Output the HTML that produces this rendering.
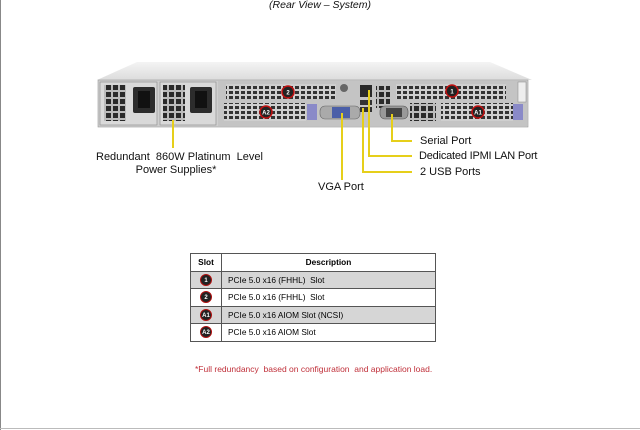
<!DOCTYPE html>
<html><head><meta charset="utf-8"><style>
html,body{margin:0;padding:0;background:#fff;}
body{width:640px;height:430px;position:relative;overflow:hidden;font-family:"Liberation Sans",sans-serif;}
.t{position:absolute;font-size:11px;color:#111;white-space:nowrap;}
table{position:absolute;left:190px;top:253px;width:246px;border-collapse:collapse;font-size:8.3px;}
td,th{border:1px solid #555;height:16.5px;padding:0 0 0 6px;text-align:left;}
th{font-weight:bold;text-align:center;padding:0;background:#fff;}
tr.g td{background:#d6d6d6;}
td.s{width:24px;padding:0;text-align:center;}
.b{display:inline-block;width:12px;height:12px;border-radius:50%;background:#222;border:1px solid #b01010;color:#fff;font-size:6px;font-weight:bold;line-height:12px;text-align:center;vertical-align:middle;box-sizing:border-box;}
</style></head><body>
<div style="position:absolute;left:0;top:0;width:1px;height:430px;background:#888"></div>
<div style="position:absolute;left:0;top:428px;width:640px;height:1px;background:#bbb"></div>
<div class="t" style="left:0;width:640px;text-align:center;top:-1px;font-style:italic;font-size:10.5px;">(Rear View – System)</div>
<svg style="position:absolute;left:0;top:0" width="640" height="230">
<defs>
<pattern id="gr" width="6" height="5" patternUnits="userSpaceOnUse"><rect width="6" height="5" fill="#cfcfcf"/><rect x="1" y="1" width="4" height="3" fill="#333"/></pattern>
<pattern id="pg" width="7" height="7" patternUnits="userSpaceOnUse"><rect width="7" height="7" fill="#bbb"/><rect x="1" y="1" width="5" height="5" fill="#2a2a2a"/></pattern>
<linearGradient id="lid" x1="0" y1="0" x2="0" y2="1"><stop offset="0" stop-color="#f4f4f4"/><stop offset="1" stop-color="#dcdcdc"/></linearGradient>
</defs>
<polygon points="137,62 490,62 532,80 97,80" fill="url(#lid)"/>
<rect x="98" y="80" width="430" height="47" fill="#cfcfcf" stroke="#999" stroke-width="0.6"/>
<rect x="100" y="82" width="57" height="43" fill="#d9d9d9" stroke="#888" stroke-width="0.6"/>
<rect x="104" y="85" width="22" height="36" fill="url(#pg)"/>
<rect x="133" y="87" width="22" height="26" rx="2" fill="#2c2c2c"/>
<rect x="138" y="91" width="12" height="17" fill="#111"/>
<rect x="160" y="82" width="56" height="43" fill="#d9d9d9" stroke="#888" stroke-width="0.6"/>
<rect x="163" y="85" width="22" height="36" fill="url(#pg)"/>
<rect x="190" y="87" width="22" height="26" rx="2" fill="#2c2c2c"/>
<rect x="195" y="91" width="12" height="17" fill="#111"/>
<rect x="218" y="81" width="309" height="45" fill="#c4c4c4"/>
<rect x="226" y="84" width="110" height="15" fill="url(#gr)"/>
<rect x="224" y="103" width="82" height="18" fill="url(#gr)"/>
<rect x="396" y="84" width="110" height="15" fill="url(#gr)"/>
<rect x="441" y="103" width="72" height="18" fill="url(#gr)"/>
<rect x="307" y="104" width="10" height="16" fill="#8a8ac8"/>
<rect x="513" y="104" width="10" height="16" fill="#8a8ac8"/>
<circle cx="344" cy="88" r="4" fill="#666"/>
<rect x="320" y="106" width="40" height="13" rx="5" fill="#aaa" stroke="#666" stroke-width="0.6"/>
<rect x="332" y="107" width="18" height="11" fill="#4b5fa8"/>
<rect x="360" y="85" width="12" height="12" fill="#2a2a2a"/>
<rect x="360" y="100" width="12" height="5" fill="#333"/>
<rect x="360" y="107" width="12" height="5" fill="#333"/>
<rect x="376" y="86" width="14" height="22" fill="url(#pg)"/>
<rect x="380" y="106" width="28" height="13" rx="5" fill="#999" stroke="#555" stroke-width="0.6"/>
<rect x="386" y="108" width="16" height="9" fill="#444"/>
<rect x="410" y="103" width="26" height="18" fill="url(#pg)"/>
<rect x="518" y="82" width="8" height="20" fill="#eee" stroke="#888" stroke-width="0.5"/>
<g font-family="Liberation Sans" font-weight="bold" font-size="6" fill="#fff" text-anchor="middle">
<circle cx="288" cy="92" r="6" fill="#222" stroke="#c01010" stroke-width="1.5"/><text x="288" y="94.5">2</text>
<circle cx="266" cy="112" r="6" fill="#222" stroke="#c01010" stroke-width="1.5"/><text x="266" y="114.5">A2</text>
<circle cx="452" cy="91" r="6" fill="#222" stroke="#c01010" stroke-width="1.5"/><text x="452" y="93.5">1</text>
<circle cx="478" cy="112" r="6" fill="#222" stroke="#c01010" stroke-width="1.5"/><text x="478" y="114.5">A1</text>
</g>
<g stroke="#e6cf1a" stroke-width="2" fill="none">
<line x1="173" y1="120" x2="173" y2="148"/>
<line x1="342" y1="113" x2="342" y2="180"/>
<polyline points="363,108 363,172 412,172"/>
<polyline points="369,90 369,156 412,156"/>
<polyline points="392,114 392,141 412,141"/>
</g>
</svg>
<div class="t" style="left:420px;top:135px;">Serial Port</div>
<div class="t" style="left:419px;top:150px;letter-spacing:-0.2px;">Dedicated IPMI LAN Port</div>
<div class="t" style="left:420px;top:166px;">2 USB Ports</div>
<div class="t" style="left:318px;top:181px;">VGA Port</div>
<div class="t" style="left:96px;top:151px;width:160px;text-align:center;line-height:13px;">Redundant&nbsp; 860W Platinum&nbsp; Level<br>Power Supplies*</div>
<table>
<tr><th style="width:30px">Slot</th><th>Description</th></tr>
<tr class="g"><td class="s"><span class="b">1</span></td><td>PCIe 5.0 x16 (FHHL)&nbsp; Slot</td></tr>
<tr><td class="s"><span class="b">2</span></td><td>PCIe 5.0 x16 (FHHL)&nbsp; Slot</td></tr>
<tr class="g"><td class="s"><span class="b">A1</span></td><td>PCIe 5.0 x16 AIOM Slot (NCSI)</td></tr>
<tr><td class="s"><span class="b">A2</span></td><td>PCIe 5.0 x16 AIOM Slot</td></tr>
</table>
<div class="t" style="left:195px;top:364px;font-size:8.5px;color:#c0303a;">*Full redundancy&nbsp; based on configuration&nbsp; and application load.</div>
</body></html>
